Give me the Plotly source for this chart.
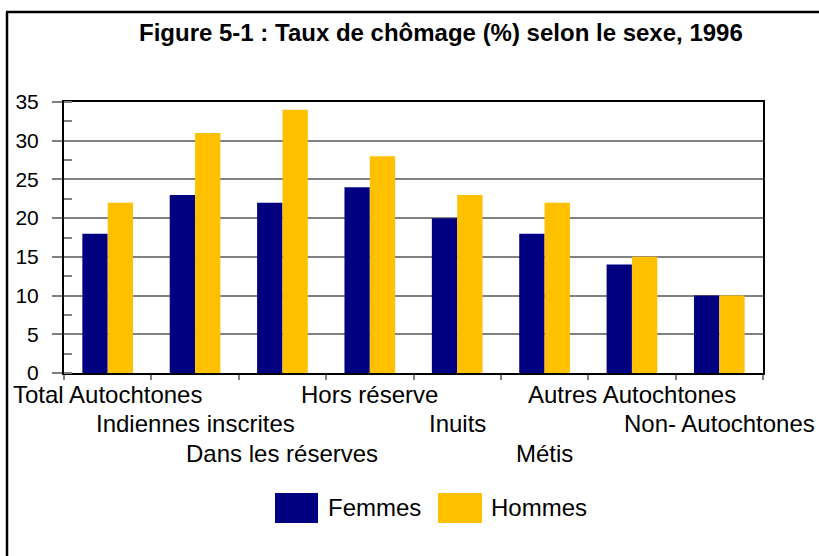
import plotly.graph_objects as go

categories = ["Total Autochtones", "Indiennes inscrites", "Dans les réserves", "Hors réserve",
              "Inuits", "Métis", "Autres Autochtones", "Non- Autochtones"]
femmes = [18, 23, 22, 24, 20, 18, 14, 10]
hommes = [22, 31, 34, 28, 23, 22, 15, 10]
label_rows = [0, 1, 2, 0, 1, 2, 0, 1]
title_text = "Figure 5-1 : Taux de chômage (%) selon le sexe, 1996"

NAVY = "#000080"
GOLD = "#FFC000"
FONT = "Arial, Liberation Sans, sans-serif"

W, H = 819, 556
L, R, T, B = 64, 763, 102, 373
pw, ph = R - L, B - T

def px_x(x):
    return (x - L) / pw

def px_y(y):
    return (B - y) / ph

fig = go.Figure()
fig.add_trace(go.Bar(x=categories, y=femmes, name="Femmes", marker=dict(color=NAVY, line=dict(width=0))))
fig.add_trace(go.Bar(x=categories, y=hommes, name="Hommes", marker=dict(color=GOLD, line=dict(width=0))))

annotations = []
row_shift = [-21, -50, -80]
for cat, row in zip(categories, label_rows):
    annotations.append(dict(x=cat, y=0, xref="x", yref="y", text=cat, showarrow=False,
                            yshift=row_shift[row], yanchor="middle", xanchor="center",
                            font=dict(family=FONT, size=24, color="black")))

annotations.append(dict(x=px_x(441), y=px_y(33), xref="paper", yref="paper", text="<b>" + title_text + "</b>",
                        showarrow=False, xanchor="center", yanchor="middle",
                        font=dict(family=FONT, size=24, color="black")))

# legend
legend_items = [("Femmes", NAVY, 275, 318, 326), ("Hommes", GOLD, 438, 482, 489)]
shapes = []
for name, col, x0, x1, tx in legend_items:
    shapes.append(dict(type="rect", xref="paper", yref="paper", x0=px_x(x0), x1=px_x(x1),
                       y0=px_y(523), y1=px_y(493), fillcolor=col, line=dict(width=0)))
    annotations.append(dict(x=px_x(tx), y=px_y(507), xref="paper", yref="paper", text=name,
                            showarrow=False, xanchor="left", yanchor="middle",
                            font=dict(family=FONT, size=24, color="black")))

# outer frame (left and top)
shapes.append(dict(type="line", xref="paper", yref="paper", x0=px_x(7), x1=px_x(7), y0=px_y(12), y1=px_y(560),
                   line=dict(color="black", width=2.5)))
shapes.append(dict(type="line", xref="paper", yref="paper", x0=px_x(6), x1=px_x(830), y0=px_y(12), y1=px_y(12),
                   line=dict(color="black", width=2.5)))

fig.update_layout(
    width=W, height=H,
    margin=dict(l=L, r=W - R, t=T, b=H - B),
    paper_bgcolor="white", plot_bgcolor="white",
    barmode="group", bargap=0.42, bargroupgap=0,
    showlegend=False,
    annotations=annotations, shapes=shapes,
    font=dict(family=FONT, size=24, color="black"),
)
fig.update_xaxes(type="category", range=[-0.5, len(categories) - 0.5], autorange=False,
                 showticklabels=False, tickson="boundaries", ticks="outside",
                 ticklen=5, tickcolor="#808080", tickwidth=1.5,
                 showline=True, linecolor="black", linewidth=2, mirror=True, showgrid=False, fixedrange=True)
fig.update_yaxes(range=[0, 35], autorange=False, dtick=5, tick0=0, ticks="outside", ticklen=10,
                 tickcolor="#808080", tickwidth=1.5,
                 showline=True, linecolor="black", linewidth=2, mirror=True,
                 showgrid=True, gridcolor="#808080", gridwidth=1.5,
                 minor=dict(dtick=2.5, ticks="inside", ticklen=8, tickcolor="#808080", tickwidth=1.5, showgrid=False),
                 tickfont=dict(family=FONT, size=21, color="black"), ticklabelstandoff=9,
                 zeroline=False, fixedrange=True)

fig.write_html("out.html", config={"displayModeBar": False},
               post_script="document.body.style.margin='0';document.body.style.padding='0';")
